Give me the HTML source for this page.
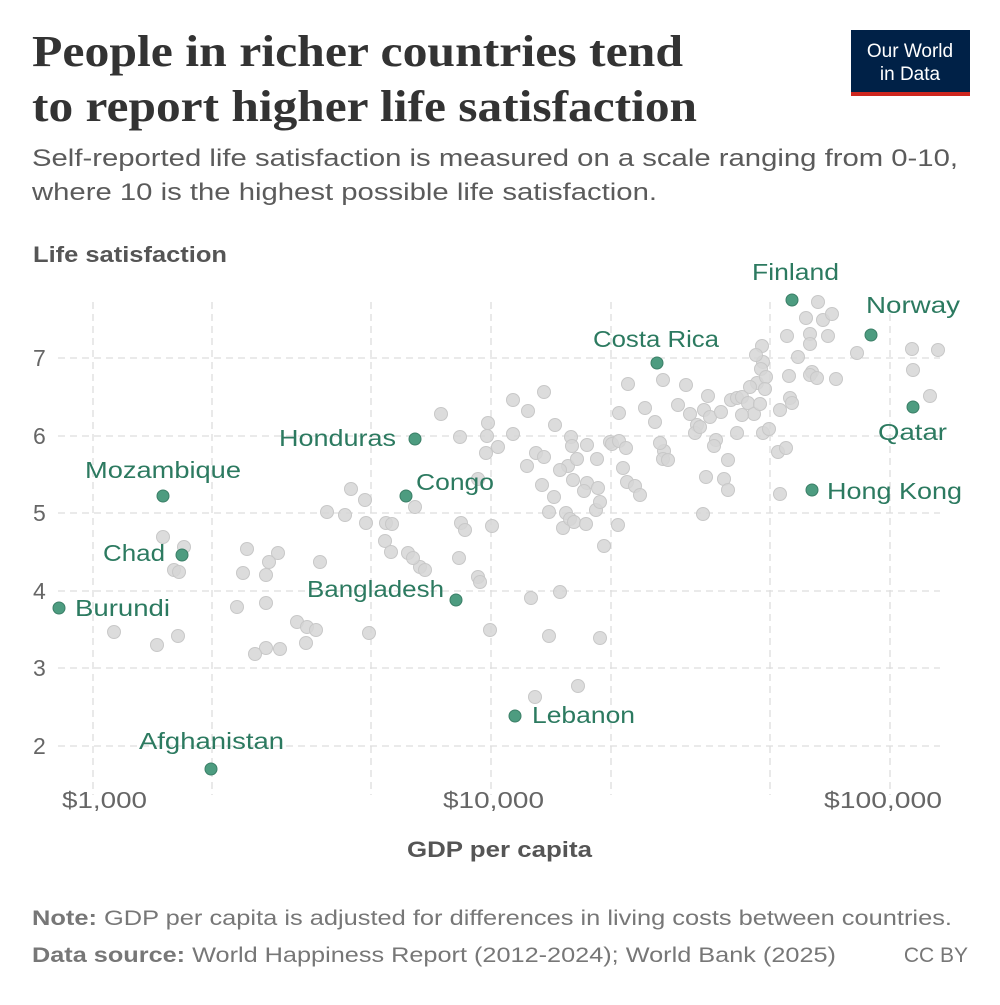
<!DOCTYPE html>
<html><head><meta charset="utf-8"><style>
body{margin:0;background:#fff;width:1000px;height:1000px;overflow:hidden}
svg text{font-family:"Liberation Sans",sans-serif}
</style></head><body>
<svg width="1000" height="1000" viewBox="0 0 1000 1000" xmlns="http://www.w3.org/2000/svg">
<text x="32" y="66" font-weight="bold" font-size="44" fill="#333" style="font-family:'Liberation Serif',serif" textLength="651" lengthAdjust="spacingAndGlyphs">People in richer countries tend</text>
<text x="32" y="121" font-weight="bold" font-size="44" fill="#333" style="font-family:'Liberation Serif',serif" textLength="665" lengthAdjust="spacingAndGlyphs">to report higher life satisfaction</text>
<text x="32" y="166" font-size="24" fill="#5b5b5b" textLength="926" lengthAdjust="spacingAndGlyphs">Self-reported life satisfaction is measured on a scale ranging from 0-10,</text>
<text x="32" y="200" font-size="24" fill="#5b5b5b" textLength="625" lengthAdjust="spacingAndGlyphs">where 10 is the highest possible life satisfaction.</text>
<rect x="851" y="30" width="119" height="62" fill="#002147"/>
<rect x="851" y="92" width="119" height="4" fill="#ce261e"/>
<text x="910" y="57" font-size="19" fill="#fff" text-anchor="middle">Our World</text>
<text x="910" y="80" font-size="19" fill="#fff" text-anchor="middle">in Data</text>
<text x="33" y="262" font-size="22" font-weight="bold" fill="#555" textLength="194" lengthAdjust="spacingAndGlyphs">Life satisfaction</text>
<g stroke="#ddd" stroke-width="1.3" stroke-dasharray="7,5" fill="none">
<line x1="58" y1="358" x2="940" y2="358"/><line x1="58" y1="436" x2="940" y2="436"/>
<line x1="58" y1="513" x2="940" y2="513"/><line x1="58" y1="591" x2="940" y2="591"/>
<line x1="58" y1="668" x2="940" y2="668"/><line x1="58" y1="746" x2="940" y2="746"/>
<line x1="93" y1="302" x2="93" y2="795"/><line x1="212" y1="302" x2="212" y2="795"/>
<line x1="371" y1="302" x2="371" y2="795"/><line x1="491" y1="302" x2="491" y2="795"/>
<line x1="611" y1="302" x2="611" y2="795"/><line x1="770" y1="302" x2="770" y2="795"/>
<line x1="890" y1="302" x2="890" y2="795"/>
</g>
<g font-size="23" fill="#666">
<text x="33" y="366">7</text><text x="33" y="444">6</text><text x="33" y="521">5</text>
<text x="33" y="599">4</text><text x="33" y="676">3</text><text x="33" y="754">2</text>
<text x="62" y="808" textLength="85" lengthAdjust="spacingAndGlyphs">$1,000</text>
<text x="443" y="808" textLength="101" lengthAdjust="spacingAndGlyphs">$10,000</text>
<text x="824" y="808" textLength="118" lengthAdjust="spacingAndGlyphs">$100,000</text>
</g>
<text x="407" y="857" font-size="22" font-weight="bold" fill="#555" textLength="185" lengthAdjust="spacingAndGlyphs">GDP per capita</text>
<g id="grey" fill="#d6d6d6" fill-opacity="0.85" stroke="#c8c8c8" stroke-width="1"></g>
<g fill="#4d9c80" stroke="#3b7f67" stroke-width="1">
<circle cx="792" cy="300" r="6"/><circle cx="871" cy="335" r="6"/><circle cx="657" cy="363" r="6"/>
<circle cx="913" cy="407" r="6"/><circle cx="812" cy="490" r="6"/><circle cx="415" cy="439" r="6"/>
<circle cx="406" cy="496" r="6"/><circle cx="163" cy="496" r="6"/><circle cx="182" cy="555" r="6"/>
<circle cx="59" cy="608" r="6"/><circle cx="456" cy="600" r="6"/><circle cx="515" cy="716" r="6"/>
<circle cx="211" cy="769" r="6"/>
</g>
<g font-size="23" fill="#2c7a60" lengthAdjust="spacingAndGlyphs">
<text x="752" y="280" textLength="87" lengthAdjust="spacingAndGlyphs">Finland</text>
<text x="866" y="313" textLength="94" lengthAdjust="spacingAndGlyphs">Norway</text>
<text x="593" y="347" textLength="126" lengthAdjust="spacingAndGlyphs">Costa Rica</text>
<text x="878" y="440" textLength="69" lengthAdjust="spacingAndGlyphs">Qatar</text>
<text x="827" y="499" textLength="135" lengthAdjust="spacingAndGlyphs">Hong Kong</text>
<text x="279" y="446" textLength="117" lengthAdjust="spacingAndGlyphs">Honduras</text>
<text x="416" y="490" textLength="78" lengthAdjust="spacingAndGlyphs">Congo</text>
<text x="85" y="478" textLength="156" lengthAdjust="spacingAndGlyphs">Mozambique</text>
<text x="103" y="561" textLength="62" lengthAdjust="spacingAndGlyphs">Chad</text>
<text x="75" y="616" textLength="95" lengthAdjust="spacingAndGlyphs">Burundi</text>
<text x="307" y="597" textLength="137" lengthAdjust="spacingAndGlyphs">Bangladesh</text>
<text x="532" y="723" textLength="103" lengthAdjust="spacingAndGlyphs">Lebanon</text>
<text x="139" y="749" textLength="145" lengthAdjust="spacingAndGlyphs">Afghanistan</text>
</g>
<text x="32" y="925" font-size="21" fill="#777" textLength="920" lengthAdjust="spacingAndGlyphs"><tspan font-weight="bold">Note:</tspan> GDP per capita is adjusted for differences in living costs between countries.</text>
<text x="32" y="962" font-size="21" fill="#777" textLength="804" lengthAdjust="spacingAndGlyphs"><tspan font-weight="bold">Data source:</tspan> World Happiness Report (2012-2024); World Bank (2025)</text>
<text x="968" y="962" font-size="21" fill="#777" text-anchor="end">CC BY</text>
</svg>
<script>
var pts=[[163,537],[184,547],[174,570],[179,572],[157,645],[178,636],[114,632],[247,549],[278,553],[269,562],[243,573],[266,575],[237,607],[266,603],[320,562],[280,649],[266,648],[255,654],[297,622],[307,627],[316,630],[306,643],[369,633],[327,512],[351,489],[345,515],[365,500],[366,523],[386,523],[385,541],[392,524],[391,552],[408,553],[420,567],[425,570],[413,558],[415,507],[441,414],[460,437],[488,423],[487,436],[486,453],[498,447],[461,523],[465,530],[459,558],[478,479],[492,526],[478,577],[480,582],[490,630],[549,636],[560,592],[531,598],[535,697],[578,686],[600,638],[513,400],[528,411],[544,392],[513,434],[536,453],[527,466],[544,457],[555,425],[542,485],[554,497],[549,512],[571,437],[572,446],[568,466],[577,459],[560,470],[587,445],[587,483],[573,480],[584,491],[566,513],[563,528],[570,519],[574,522],[586,524],[597,459],[598,488],[596,510],[604,546],[618,525],[600,502],[610,442],[612,444],[619,441],[626,448],[619,413],[628,384],[623,468],[627,482],[635,486],[640,495],[645,408],[663,380],[655,422],[664,451],[660,443],[663,459],[668,460],[678,405],[686,385],[690,414],[697,425],[695,433],[700,427],[704,410],[708,396],[710,417],[716,440],[714,446],[721,412],[728,460],[731,400],[737,398],[742,397],[748,403],[754,414],[760,404],[763,433],[769,429],[757,383],[780,410],[778,452],[786,448],[780,494],[703,514],[706,477],[724,479],[728,490],[737,433],[742,415],[750,387],[762,346],[763,362],[756,355],[761,369],[766,377],[765,389],[787,336],[789,376],[790,398],[792,403],[798,357],[806,318],[810,334],[810,344],[812,372],[810,375],[817,378],[818,302],[823,320],[832,314],[828,336],[836,379],[857,353],[912,349],[913,370],[938,350],[930,396]];
var g=document.getElementById('grey'),s='';
pts.forEach(function(p){s+='<circle cx="'+p[0]+'" cy="'+p[1]+'" r="6.5"/>';});
g.innerHTML=s;
</script>
</body></html>
